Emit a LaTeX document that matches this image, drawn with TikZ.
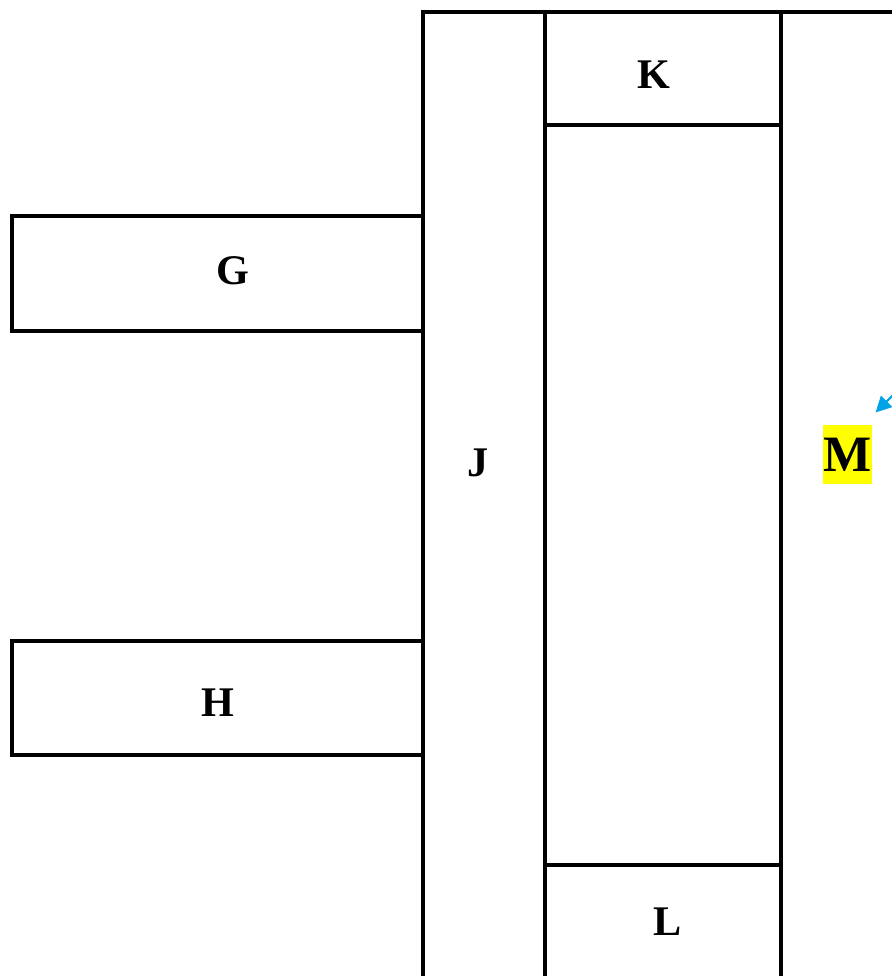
\documentclass[tikz,border=0pt]{standalone}
\usepackage{fontspec}
\setmainfont{Liberation Serif}
\usepackage{xcolor}
\usetikzlibrary{positioning,calc,arrows.meta}
\definecolor{arrowblue}{RGB}{0,162,232}
\definecolor{markyellow}{RGB}{255,255,0}

\begin{document}
\begin{tikzpicture}[x=0.01cm, y=-0.01cm, line width=0.9pt,
    lbl/.style={font=\bfseries\fontsize{12}{14}\selectfont, inner sep=0pt},
    pointer/.style={arrowblue, line width=0.6pt, -{Triangle[length=4.5pt,width=4.5pt]}}]
    \useasboundingbox (0,0) rectangle (892,976);
    \clip (0,0) rectangle (892,976);

    % Main frame and columns
    \draw (423,12) rectangle (1000,1100);
    \draw (545,12) -- (545,1100);
    \draw (781,12) -- (781,1100);
    \draw (545,125) -- (781,125);
    \draw (545,865) -- (781,865);

    % Side boxes
    \draw (12,216) rectangle (423,331);
    \draw (12,641) rectangle (423,755);

    % Labels
    \node[lbl] (G) at (233,271) {G};
    \node[lbl] (H) at (218,703) {H};
    \node[lbl] (J) at (478,463) {J};
    \node[lbl] (K) at (654,75) {K};
    \node[lbl] (L) at (668,922) {L};
    \node[font=\bfseries\fontsize{14.5}{16}\selectfont, fill=markyellow, inner sep=0pt,
          minimum width=0.49cm, minimum height=0.59cm] (M) at (847.5,454.5) {M};

    % Pointer to M
    \coordinate (mtail) at (910,378);
    \draw[pointer, shorten >=4.4pt] (mtail) -- ($(M.north east)+(-9,0)$);
\end{tikzpicture}
\end{document}
